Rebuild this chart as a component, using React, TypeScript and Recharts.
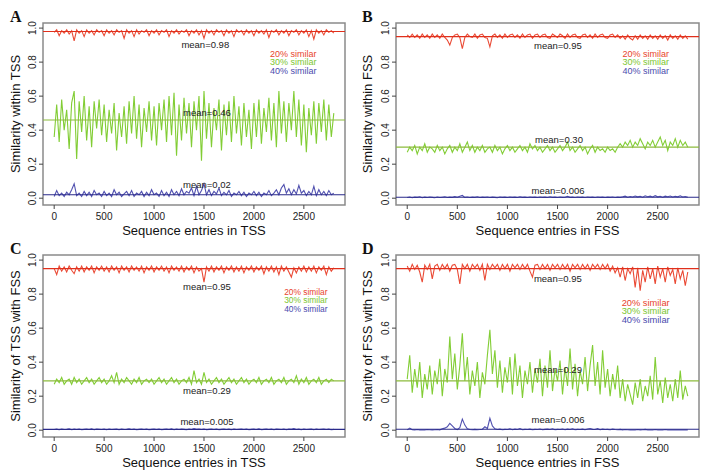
import React from 'react';
import { LineChart, Line, XAxis, YAxis, ReferenceLine, ReferenceArea, ReferenceDot } from 'recharts';

const FONT = '"Liberation Sans", Arial, Helvetica, sans-serif';
const STEP = 25; // sampled every 25 sequence entries
const X_TICKS = [0, 500, 1000, 1500, 2000, 2500];
const Y_TICKS = [0, 0.2, 0.4, 0.6, 0.8, 1.0];
const X_DOMAIN: [number, number] = [-112, 2912];
const Y_DOMAIN: [number, number] = [-0.04, 1.03];
const LEGEND_LABELS = ['20% similar', '30% similar', '40% similar'];

const RED = '#e8361f';
const GREEN = '#74c81f';
const BLUE = '#3d3da6';
const RED_MEAN = '#e0301c';
const GREEN_MEAN = '#8cbb3c';
const BLUE_MEAN = '#2a2a8a';
const LEGEND_COLORS = ['#e8442c', '#7cc630', '#4a4aae'];

// ---------- Panel A: within TSS ----------
const aRed = [
  0.975,0.99,0.955,0.985,0.97,0.99,0.965,0.985,0.925,0.99,
  0.97,0.985,0.95,0.99,0.97,0.985,0.96,0.99,0.975,0.985,
  0.955,0.99,0.97,0.985,0.96,0.99,0.975,0.985,0.94,0.99,
  0.97,0.985,0.95,0.99,0.965,0.985,0.975,0.99,0.955,0.985,
  0.97,0.99,0.96,0.985,0.975,0.99,0.95,0.985,0.97,0.99,
  0.965,0.985,0.975,0.99,0.955,0.985,0.97,0.99,0.96,0.985,
  0.94,0.99,0.97,0.985,0.96,0.99,0.975,0.985,0.955,0.99,
  0.97,0.985,0.95,0.99,0.975,0.985,0.96,0.99,0.97,0.985,
  0.955,0.99,0.97,0.985,0.965,0.99,0.945,0.985,0.975,0.99,
  0.96,0.985,0.97,0.99,0.955,0.985,0.975,0.99,0.96,0.985,
  0.97,0.99,0.95,0.985,0.935,0.99,0.97,0.985,0.96,0.99,
  0.975,0.985,0.97,
];
const aGreen = [
  0.36,0.55,0.33,0.58,0.40,0.52,0.29,0.56,0.63,0.23,
  0.57,0.39,0.60,0.34,0.54,0.30,0.57,0.41,0.58,0.37,
  0.55,0.33,0.52,0.38,0.56,0.28,0.50,0.36,0.54,0.32,
  0.57,0.38,0.60,0.35,0.55,0.30,0.53,0.39,0.57,0.34,
  0.54,0.31,0.56,0.40,0.58,0.33,0.60,0.37,0.62,0.25,
  0.55,0.34,0.59,0.38,0.56,0.30,0.57,0.40,0.60,0.22,
  0.63,0.35,0.56,0.30,0.53,0.40,0.58,0.28,0.55,0.37,
  0.57,0.33,0.60,0.38,0.54,0.31,0.56,0.36,0.52,0.29,
  0.56,0.36,0.58,0.32,0.53,0.39,0.59,0.34,0.56,0.30,
  0.63,0.38,0.57,0.33,0.56,0.40,0.63,0.36,0.58,0.31,
  0.55,0.27,0.53,0.37,0.57,0.32,0.56,0.39,0.58,0.34,
  0.55,0.36,0.50,
];
const aBlue = [
  0.01,0.045,0.015,0.03,0.01,0.035,0.02,0.05,0.085,0.015,
  0.03,0.01,0.04,0.015,0.035,0.01,0.045,0.02,0.03,0.01,
  0.04,0.015,0.03,0.01,0.05,0.02,0.035,0.01,0.025,0.04,
  0.015,0.045,0.01,0.03,0.02,0.04,0.01,0.035,0.015,0.05,
  0.02,0.03,0.01,0.045,0.015,0.035,0.01,0.05,0.02,0.04,
  0.015,0.055,0.02,0.04,0.03,0.06,0.015,0.07,0.02,0.045,
  0.085,0.02,0.05,0.015,0.04,0.025,0.06,0.015,0.035,0.02,
  0.045,0.01,0.03,0.02,0.04,0.015,0.035,0.01,0.03,0.02,
  0.04,0.015,0.035,0.01,0.03,0.02,0.045,0.015,0.03,0.05,
  0.02,0.06,0.08,0.03,0.055,0.02,0.05,0.025,0.075,0.03,
  0.045,0.015,0.04,0.02,0.07,0.015,0.05,0.02,0.04,0.015,
  0.045,0.02,0.03,
];

// ---------- Panel B: within FSS ----------
const bRed = [
  0.96,0.945,0.965,0.945,0.96,0.94,0.965,0.945,0.96,0.94,
  0.965,0.945,0.96,0.94,0.965,0.945,0.93,0.90,0.945,0.96,
  0.965,0.945,0.88,0.945,0.965,0.95,0.945,0.965,0.94,0.96,
  0.965,0.945,0.94,0.89,0.955,0.965,0.945,0.96,0.94,0.965,
  0.945,0.96,0.965,0.945,0.96,0.94,0.965,0.945,0.96,0.965,
  0.94,0.96,0.965,0.945,0.96,0.965,0.945,0.94,0.965,0.955,
  0.945,0.965,0.955,0.94,0.965,0.945,0.96,0.965,0.945,0.94,
  0.96,0.965,0.945,0.96,0.94,0.965,0.945,0.96,0.965,0.945,
  0.94,0.96,0.965,0.945,0.96,0.94,0.955,0.935,0.96,0.94,
  0.93,0.955,0.935,0.96,0.94,0.955,0.935,0.96,0.94,0.955,
  0.935,0.96,0.94,0.955,0.93,0.96,0.94,0.955,0.935,0.96,
  0.94,0.955,0.935,
];
const bGreen = [
  0.27,0.30,0.28,0.31,0.26,0.30,0.28,0.32,0.27,0.30,
  0.29,0.27,0.31,0.28,0.30,0.26,0.29,0.31,0.27,0.30,
  0.28,0.32,0.27,0.30,0.33,0.28,0.31,0.27,0.30,0.28,
  0.31,0.27,0.29,0.30,0.27,0.31,0.28,0.30,0.26,0.29,
  0.31,0.28,0.30,0.27,0.29,0.31,0.28,0.30,0.27,0.32,
  0.29,0.31,0.28,0.30,0.27,0.29,0.31,0.28,0.30,0.27,
  0.29,0.31,0.28,0.30,0.33,0.28,0.30,0.27,0.29,0.31,
  0.28,0.30,0.26,0.29,0.31,0.27,0.30,0.28,0.29,0.27,
  0.30,0.28,0.29,0.27,0.30,0.32,0.30,0.33,0.31,0.34,
  0.30,0.33,0.31,0.35,0.32,0.29,0.33,0.31,0.34,0.30,
  0.33,0.36,0.31,0.34,0.28,0.33,0.31,0.35,0.30,0.34,
  0.31,0.33,0.30,
];
const bBlue = [
  0.004,0.007,0.003,0.006,0.005,0.008,0.003,0.006,0.004,0.007,
  0.005,0.003,0.007,0.004,0.006,0.008,0.004,0.006,0.005,0.009,
  0.006,0.012,0.016,0.005,0.007,0.004,0.006,0.005,0.008,0.004,
  0.006,0.005,0.007,0.004,0.006,0.005,0.003,0.007,0.005,0.006,
  0.004,0.007,0.005,0.006,0.004,0.008,0.005,0.006,0.004,0.007,
  0.005,0.006,0.004,0.007,0.005,0.006,0.004,0.008,0.005,0.006,
  0.004,0.007,0.005,0.006,0.011,0.005,0.006,0.004,0.007,0.005,
  0.006,0.004,0.007,0.005,0.006,0.004,0.007,0.005,0.006,0.004,
  0.006,0.005,0.007,0.004,0.006,0.005,0.008,0.012,0.006,0.010,
  0.007,0.013,0.008,0.011,0.006,0.014,0.009,0.012,0.007,0.015,
  0.008,0.011,0.006,0.012,0.009,0.013,0.007,0.011,0.008,0.014,
  0.007,0.010,0.006,
];

// ---------- Panel C: TSS with FSS ----------
const cRed = [
  0.95,0.915,0.965,0.935,0.96,0.93,0.965,0.94,0.92,0.96,
  0.935,0.965,0.93,0.96,0.94,0.965,0.925,0.96,0.94,0.965,
  0.935,0.96,0.93,0.965,0.94,0.96,0.925,0.965,0.94,0.96,
  0.93,0.965,0.94,0.96,0.935,0.965,0.925,0.96,0.94,0.965,
  0.93,0.96,0.94,0.965,0.935,0.96,0.925,0.965,0.94,0.96,
  0.935,0.965,0.93,0.96,0.94,0.965,0.925,0.96,0.935,0.95,
  0.87,0.96,0.935,0.965,0.93,0.96,0.94,0.965,0.925,0.96,
  0.94,0.965,0.93,0.96,0.935,0.965,0.925,0.96,0.94,0.965,
  0.93,0.96,0.94,0.965,0.92,0.96,0.935,0.965,0.93,0.96,
  0.915,0.965,0.935,0.96,0.93,0.90,0.955,0.925,0.96,0.935,
  0.965,0.93,0.96,0.935,0.965,0.925,0.96,0.94,0.965,0.915,
  0.96,0.935,0.955,
];
const cGreen = [
  0.27,0.30,0.28,0.31,0.27,0.29,0.30,0.27,0.31,0.28,
  0.30,0.27,0.29,0.31,0.28,0.30,0.27,0.29,0.31,0.28,
  0.30,0.27,0.29,0.32,0.28,0.34,0.27,0.30,0.28,0.31,
  0.29,0.27,0.30,0.28,0.31,0.27,0.29,0.30,0.28,0.30,
  0.27,0.29,0.31,0.28,0.30,0.27,0.29,0.31,0.28,0.30,
  0.27,0.29,0.30,0.28,0.31,0.27,0.35,0.28,0.30,0.27,
  0.34,0.28,0.30,0.27,0.29,0.31,0.28,0.30,0.27,0.29,
  0.31,0.28,0.30,0.27,0.29,0.31,0.28,0.30,0.27,0.29,
  0.30,0.28,0.31,0.27,0.29,0.30,0.28,0.31,0.27,0.29,
  0.30,0.28,0.31,0.27,0.29,0.30,0.28,0.32,0.27,0.30,
  0.28,0.31,0.27,0.29,0.30,0.28,0.31,0.27,0.29,0.30,
  0.28,0.30,0.29,
];
const cBlue = [
  0.004,0.006,0.003,0.007,0.004,0.005,0.008,0.003,0.006,0.004,
  0.007,0.003,0.005,0.006,0.004,0.008,0.003,0.006,0.005,0.004,
  0.006,0.003,0.007,0.004,0.005,0.006,0.003,0.007,0.004,0.005,
  0.008,0.004,0.006,0.003,0.005,0.007,0.004,0.006,0.003,0.005,
  0.006,0.004,0.007,0.003,0.005,0.006,0.004,0.008,0.003,0.006,
  0.004,0.007,0.005,0.003,0.006,0.004,0.009,0.005,0.006,0.004,
  0.007,0.003,0.005,0.006,0.004,0.007,0.003,0.005,0.006,0.004,
  0.006,0.003,0.007,0.004,0.005,0.006,0.004,0.007,0.003,0.005,
  0.006,0.004,0.008,0.003,0.005,0.006,0.004,0.007,0.003,0.006,
  0.005,0.004,0.007,0.003,0.006,0.005,0.009,0.004,0.006,0.003,
  0.007,0.004,0.005,0.006,0.003,0.007,0.004,0.005,0.006,0.004,
  0.006,0.003,0.005,
];

// ---------- Panel D: FSS with TSS ----------
const dRed = [
  0.965,0.935,0.975,0.945,0.97,0.93,0.87,0.97,0.945,0.975,
  0.89,0.965,0.975,0.94,0.975,0.95,0.975,0.935,0.97,0.975,
  0.945,0.86,0.975,0.95,0.975,0.935,0.975,0.955,0.975,0.94,
  0.975,0.88,0.975,0.945,0.975,0.955,0.975,0.94,0.975,0.95,
  0.975,0.935,0.975,0.955,0.975,0.945,0.975,0.95,0.975,0.935,
  0.90,0.97,0.975,0.945,0.975,0.95,0.975,0.94,0.975,0.955,
  0.975,0.945,0.975,0.95,0.975,0.935,0.975,0.955,0.975,0.945,
  0.975,0.95,0.975,0.94,0.975,0.955,0.975,0.945,0.975,0.95,
  0.975,0.935,0.965,0.925,0.955,0.90,0.96,0.88,0.95,0.92,
  0.96,0.84,0.955,0.82,0.94,0.87,0.96,0.89,0.95,0.86,
  0.965,0.90,0.95,0.87,0.96,0.91,0.945,0.86,0.955,0.89,
  0.94,0.85,0.93,
];
const dGreen = [
  0.30,0.44,0.22,0.36,0.25,0.40,0.19,0.33,0.24,0.38,
  0.21,0.35,0.27,0.42,0.20,0.36,0.28,0.55,0.30,0.45,
  0.24,0.38,0.57,0.29,0.43,0.21,0.35,0.26,0.40,0.19,
  0.34,0.27,0.44,0.59,0.33,0.47,0.25,0.41,0.22,0.37,
  0.28,0.43,0.21,0.45,0.26,0.38,0.19,0.35,0.27,0.40,
  0.22,0.36,0.28,0.42,0.20,0.38,0.25,0.47,0.23,0.36,
  0.29,0.41,0.21,0.37,0.26,0.48,0.24,0.39,0.20,0.35,
  0.27,0.43,0.23,0.38,0.50,0.26,0.40,0.21,0.47,0.25,
  0.36,0.20,0.33,0.24,0.38,0.19,0.30,0.17,0.27,0.21,
  0.15,0.28,0.19,0.30,0.17,0.26,0.20,0.32,0.18,0.43,
  0.21,0.29,0.16,0.31,0.19,0.27,0.17,0.30,0.19,0.35,
  0.18,0.26,0.20,
];
const dBlue = [
  0.002,0.012,0.003,0.002,0.004,0.002,0.003,0.002,0.004,0.003,
  0.002,0.003,0.004,0.002,0.008,0.012,0.02,0.04,0.025,0.01,
  0.004,0.015,0.065,0.03,0.008,0.004,0.003,0.005,0.003,0.004,
  0.006,0.02,0.01,0.07,0.025,0.008,0.004,0.006,0.003,0.005,
  0.004,0.008,0.003,0.006,0.004,0.01,0.003,0.005,0.004,0.006,
  0.003,0.005,0.004,0.007,0.003,0.005,0.006,0.004,0.008,0.003,
  0.005,0.004,0.007,0.003,0.006,0.004,0.008,0.003,0.005,0.004,
  0.006,0.003,0.007,0.01,0.005,0.004,0.009,0.003,0.006,0.004,
  0.005,0.003,0.006,0.004,0.003,0.005,0.002,0.004,0.003,0.002,
  0.003,0.002,0.004,0.002,0.003,0.005,0.002,0.003,0.002,0.004,
  0.002,0.003,0.002,0.004,0.002,0.003,0.002,0.003,0.002,0.003,
  0.002,0.003,0.002,
];

const aMeans = [0.98, 0.46, 0.02];
const bMeans = [0.95, 0.30, 0.006];
const cMeans = [0.95, 0.29, 0.005];
const dMeans = [0.95, 0.29, 0.006];
const aMeanLabels = ['mean=0.98', 'mean=0.46', 'mean=0.02'];
const bMeanLabels = ['mean=0.95', 'mean=0.30', 'mean=0.006'];
const cMeanLabels = ['mean=0.95', 'mean=0.29', 'mean=0.005'];
const dMeanLabels = ['mean=0.95', 'mean=0.29', 'mean=0.006'];

type Cfg = {
  letter: string;
  red: number[]; green: number[]; blue: number[];
  means: number[]; meanLabels: string[];
  meanPos: [number, number][];
  legendPos: [number, number][];
  legendSize: number;
  xTitle: string; yTitle: string;
  yw: number; mr: number;
  left: number; top: number;
};

const panels: Cfg[] = [
  {
    letter: 'A', red: aRed, green: aGreen, blue: aBlue, means: aMeans, meanLabels: aMeanLabels,
    meanPos: [[1513, 0.905], [1530, 0.505], [1530, 0.082]],
    legendPos: [[2395, 0.85], [2395, 0.80], [2395, 0.75]],
    legendSize: 9,
    xTitle: 'Sequence entries in TSS', yTitle: 'Similarity within TSS',
    yw: 43, mr: 11, left: 0, top: 0,
  },
  {
    letter: 'B', red: bRed, green: bGreen, blue: bBlue, means: bMeans, meanLabels: bMeanLabels,
    meanPos: [[1504, 0.895], [1515, 0.347], [1505, 0.047]],
    legendPos: [[2380, 0.85], [2380, 0.80], [2380, 0.75]],
    legendSize: 9,
    xTitle: 'Sequence entries in FSS', yTitle: 'Similarity within FSS',
    yw: 44, mr: 9, left: 352, top: 0,
  },
  {
    letter: 'C', red: cRed, green: cGreen, blue: cBlue, means: cMeans, meanLabels: cMeanLabels,
    meanPos: [[1530, 0.843], [1530, 0.235], [1530, 0.049]],
    legendPos: [[2520, 0.815], [2520, 0.765], [2520, 0.715]],
    legendSize: 8.4,
    xTitle: 'Sequence entries in TSS', yTitle: 'Similarity of TSS with FSS',
    yw: 43, mr: 11, left: 0, top: 232,
  },
  {
    letter: 'D', red: dRed, green: dGreen, blue: dBlue, means: dMeans, meanLabels: dMeanLabels,
    meanPos: [[1503, 0.889], [1505, 0.354], [1505, 0.062]],
    legendPos: [[2380, 0.75], [2380, 0.70], [2380, 0.65]],
    legendSize: 9.3,
    xTitle: 'Sequence entries in FSS', yTitle: 'Similarity of FSS with TSS',
    yw: 44, mr: 9, left: 352, top: 232,
  },
];

const SERIES_COLORS = [RED, GREEN, BLUE];
const MEAN_COLORS = [RED_MEAN, GREEN_MEAN, BLUE_MEAN];

const YTick = (props: any) => {
  const { x, y, payload } = props;
  return (
    <text x={x} y={y} transform={`rotate(-90 ${x} ${y})`} textAnchor="middle"
      fontSize={10} fill="#222" fontFamily={FONT}>
      {Number(payload.value).toFixed(1)}
    </text>
  );
};

const W = 356;
const H = 240;

function Panel({ cfg }: { cfg: Cfg }) {
  const rows = cfg.red.map((r, i) => ({ x: i * STEP, r, g: cfg.green[i], b: cfg.blue[i] }));
  const plotLeft = cfg.yw;
  const plotRight = W - cfg.mr;
  const plotTop = 23;
  const plotBottom = H - 35;
  return (
    <div style={{ position: 'absolute', left: cfg.left, top: cfg.top, width: W, height: H }}>
      <LineChart width={W} height={H} data={rows} margin={{ top: plotTop, right: cfg.mr, bottom: 0, left: 0 }}>
        <XAxis dataKey="x" type="number" domain={X_DOMAIN} ticks={X_TICKS} allowDataOverflow interval={0}
          axisLine={false} tickLine={{ stroke: '#444' }} tickSize={4} tickMargin={4} height={35}
          tick={{ fontSize: 10, fill: '#222', fontFamily: FONT }} />
        <YAxis type="number" domain={Y_DOMAIN} ticks={Y_TICKS} allowDataOverflow interval={0}
          axisLine={false} tickLine={{ stroke: '#444' }} tickSize={4} tickMargin={3} width={cfg.yw}
          tick={<YTick />} />
        <ReferenceArea x1={X_DOMAIN[0]} x2={X_DOMAIN[1]} y1={Y_DOMAIN[0]} y2={Y_DOMAIN[1]}
          fill="none" stroke="#8a8a8a" strokeWidth={1.5} ifOverflow="visible" />
        {(['r', 'g', 'b'] as const).map((k, i) => (
          <Line key={k} type="linear" dataKey={k} stroke={SERIES_COLORS[i]} strokeWidth={1.1}
            strokeOpacity={0.9} dot={false} activeDot={false} isAnimationActive={false} />
        ))}
        {cfg.means.map((m, i) => (
          <ReferenceLine key={'m' + i} y={m} stroke={MEAN_COLORS[i]} strokeWidth={1.1} ifOverflow="visible" />
        ))}
        {cfg.meanLabels.map((t, i) => (
          <ReferenceDot key={'ml' + i} x={cfg.meanPos[i][0]} y={cfg.meanPos[i][1]} r={0}
            fill="none" stroke="none" ifOverflow="visible"
            label={{ value: t, position: 'center', fontSize: 9.5, fill: '#222', fontFamily: FONT }} />
        ))}
        {LEGEND_LABELS.map((t, i) => (
          <ReferenceDot key={'lg' + i} x={cfg.legendPos[i][0]} y={cfg.legendPos[i][1]} r={0}
            fill="none" stroke="none" ifOverflow="visible"
            label={{ value: t, position: 'center', fontSize: cfg.legendSize, fill: LEGEND_COLORS[i], fontFamily: FONT }} />
        ))}
      </LineChart>
      <svg width={W} height={H} style={{ position: 'absolute', left: 0, top: 0, pointerEvents: 'none' }}>
        <text x={10} y={22} fontFamily='"Liberation Serif", "Times New Roman", serif' fontWeight="bold"
          fontSize={16} fill="#111">{cfg.letter}</text>
        <text x={(plotLeft + plotRight) / 2} y={plotBottom + 30} textAnchor="middle" fontSize={13}
          fontFamily={FONT} fill="#111">{cfg.xTitle}</text>
        <text x={20} y={(plotTop + plotBottom) / 2} transform={`rotate(-90 20 ${(plotTop + plotBottom) / 2})`}
          textAnchor="middle" fontSize={13} fontFamily={FONT} fill="#111">{cfg.yTitle}</text>
      </svg>
    </div>
  );
}

export default function App() {
  return (
    <div style={{ position: 'absolute', left: 0, top: 0, width: 713, height: 474, background: '#fff', overflow: 'hidden' }}>
      {panels.map((p) => (
        <Panel key={p.letter} cfg={p} />
      ))}
    </div>
  );
}
